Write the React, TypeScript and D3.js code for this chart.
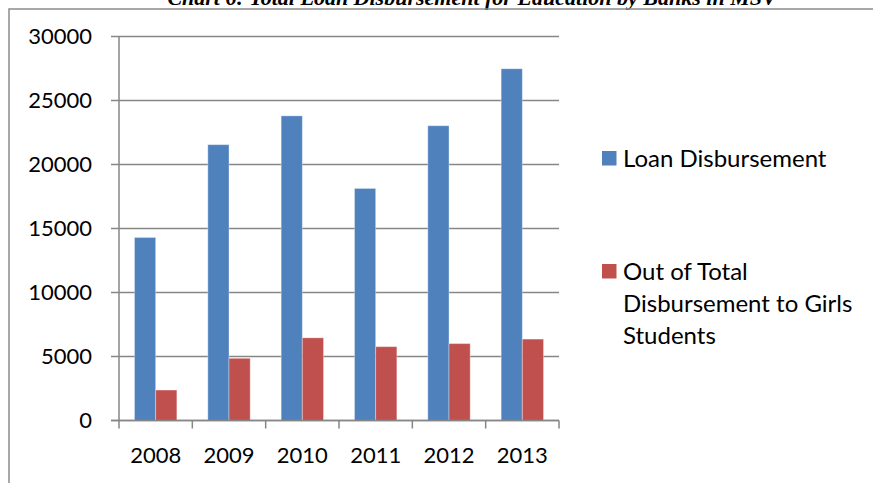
import React from 'react';
import * as d3 from 'd3';

const years = ['2008', '2009', '2010', '2011', '2012', '2013'];
const loanDisbursement = [14300, 21550, 23800, 18130, 23030, 27480];
const girlsDisbursement = [2380, 4860, 6460, 5770, 6010, 6360];
const yTicks = [0, 5000, 10000, 15000, 20000, 25000, 30000];
const seriesNames = ['Loan Disbursement', 'Out of Total Disbursement to Girls Students'];
const legendLines = [['Loan Disbursement'], ['Out of Total', 'Disbursement to Girls', 'Students']];

const COLORS = ['#4F81BD', '#C0504D'];
const GRID = '#868686';
const FONT = 'Lato, "Open Sans", sans-serif';

const W = 873;
const H = 483;
const margin = { top: 36.5, right: 314, bottom: 62.5, left: 119 };

export default function App() {
  const x = d3.scaleBand<string>()
    .domain(years)
    .range([margin.left, W - margin.right]);

  const inner = d3.scaleBand<string>()
    .domain(seriesNames)
    .range([0, x.bandwidth()])
    .paddingInner(0)
    .paddingOuter(0.73);

  const y = d3.scaleLinear()
    .domain([0, 30000])
    .range([H - margin.bottom, margin.top]);

  const series = [loanDisbursement, girlsDisbursement];
  const x0 = margin.left;
  const x1 = W - margin.right;
  const yBase = y(0);
  const tickBounds = years.map(d => x(d) as number).concat([x1]);

  return (
    <svg width={W} height={H} style={{ position: 'absolute', left: 0, top: 0, background: '#fff' }}>
      {/* title, cut off at the top edge like the source */}
      <text x={472} y={5} textAnchor="middle" fontFamily='"Liberation Serif", serif'
        fontWeight="bold" fontStyle="italic" fontSize={22}>
        Chart 6: Total Loan Disbursement for Education by Banks in MSV
      </text>

      {/* outer frame */}
      <path d={`M9,${H} L9,9 L${W},9`} fill="none" stroke="#8c8c8c" strokeWidth={1.5} />

      {/* gridlines + y labels */}
      {yTicks.map(t => (
        <g key={t}>
          <line x1={x0 - 8} x2={x1} y1={y(t)} y2={y(t)} stroke={GRID} strokeWidth={1.5} />
          <text x={92} y={y(t)} dy="0.36em" textAnchor="end" fontFamily={FONT} fontSize={22} fill="#000">
            {t}
          </text>
        </g>
      ))}

      {/* bars */}
      {series.map((vals, si) => (
        <g key={si}>
          {vals.map((v, i) => (
            <rect key={years[i]}
              x={(x(years[i]) as number) + (inner(seriesNames[si]) as number)}
              y={y(v)}
              width={inner.bandwidth()}
              height={yBase - y(v)}
              fill={COLORS[si]}
              stroke="rgba(255,255,255,0.35)"
              strokeWidth={1} />
          ))}
        </g>
      ))}

      {/* axes */}
      <line x1={x0} x2={x0} y1={y(30000)} y2={yBase} stroke={GRID} strokeWidth={1.5} />
      <line x1={x0 - 8} x2={x1} y1={yBase} y2={yBase} stroke={GRID} strokeWidth={1.5} />
      {tickBounds.map((b, i) => (
        <line key={i} x1={b} x2={b} y1={yBase} y2={yBase + 8} stroke={GRID} strokeWidth={1.5} />
      ))}
      {years.map(d => (
        <text key={d} x={(x(d) as number) + x.bandwidth() / 2} y={463} textAnchor="middle"
          fontFamily={FONT} fontSize={22} fill="#000">
          {d}
        </text>
      ))}

      {/* legend */}
      {legendLines.map((lines, si) => {
        const top = si === 0 ? 151 : 264;
        return (
          <g key={si}>
            <rect x={602} y={top} width={14.5} height={14.5} fill={COLORS[si]} />
            {lines.map((ln, li) => (
              <text key={li} x={623} y={top + 15.5 + li * 32} fontFamily={FONT} fontSize={24} fill="#000">
                {ln}
              </text>
            ))}
          </g>
        );
      })}
    </svg>
  );
}
